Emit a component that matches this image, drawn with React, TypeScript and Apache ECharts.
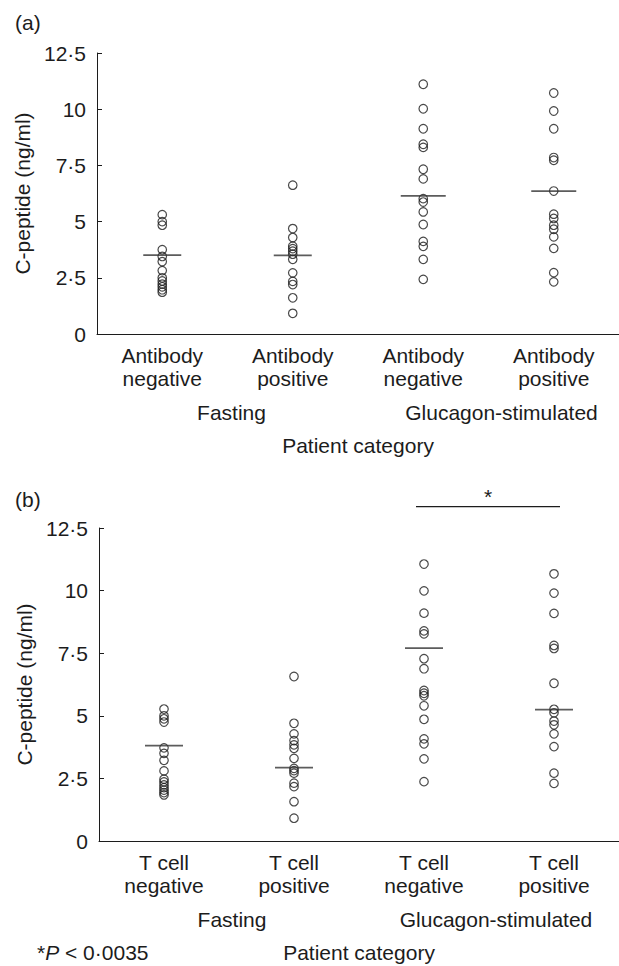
import React, { useEffect, useRef } from "react";
import * as echarts from "echarts";

// ---------- data ----------
const catLabelsA = ["Antibody\nnegative", "Antibody\npositive", "Antibody\nnegative", "Antibody\npositive"];
const catLabelsB = ["T cell\nnegative", "T cell\npositive", "T cell\nnegative", "T cell\npositive"];
const groupLabels = ["Fasting", "Glucagon-stimulated"];
const yTicks = { min: 0, max: 12.5, interval: 2.5 };

// Panel (a) – C-peptide (ng/ml)
const aFastNeg = [5.31, 5.0, 4.84, 3.75, 3.45, 3.22, 2.82, 2.5, 2.36, 2.22, 2.1, 1.97, 1.86];
const aFastPos = [6.62, 4.69, 4.29, 3.91, 3.8, 3.68, 3.55, 3.32, 2.72, 2.34, 2.2, 1.61, 0.92];
const aGlucNeg = [11.11, 10.02, 9.13, 8.44, 8.3, 7.33, 6.9, 6.02, 5.87, 5.43, 4.87, 4.12, 3.9, 3.32, 2.43];
const aGlucPos = [10.72, 9.92, 9.13, 7.85, 7.73, 6.36, 5.33, 5.14, 4.84, 4.66, 4.32, 3.81, 2.73, 2.32];
const aMedians = [3.51, 3.5, 6.14, 6.36];

// Panel (b)
const bFastNeg = [5.27, 5.0, 4.88, 4.75, 3.72, 3.5, 3.22, 2.8, 2.47, 2.36, 2.24, 2.13, 2.03, 1.93, 1.84];
const bFastPos = [6.57, 4.7, 4.28, 4.01, 3.84, 3.7, 3.3, 2.9, 2.81, 2.71, 2.31, 2.17, 1.57, 0.91];
const bGlucNeg = [11.06, 9.99, 9.1, 8.39, 8.27, 7.28, 6.88, 6.01, 5.9, 5.8, 5.4, 4.86, 4.08, 3.88, 3.28, 2.37];
const bGlucPos = [10.67, 9.9, 9.09, 7.81, 7.69, 6.3, 5.26, 5.12, 4.79, 4.64, 4.28, 3.77, 2.71, 2.3];
const bMedians = [3.81, 2.93, 7.7, 5.25];

// significance bracket in panel (b): between columns 2 and 3, at this y value
const sigBracket = [[2, 3, 13.35]];
const sigItalic = "P";
const sigRest = " < 0·0035";

// ---------- styles ----------
const FONT = "Liberation Sans, Arial, Helvetica, sans-serif";
const INK = "#1c1c1c";
const FS = 21;
const medianWidthsA = [38, 38, 45, 45];
const medianWidthsB = [38, 38, 38, 38];

const fmtNum = (v: number) => String(v).replace(".", "·");

function pointsOf(cols: number[][]) {
  const out: number[][] = [];
  cols.forEach((vals, i) => vals.forEach((v) => out.push([i, v])));
  return out;
}

function panelAxes(gi: number, labels: string[], groupShift: number[]) {
  const x = [
    {
      type: "category",
      gridIndex: gi,
      data: ["0", "1", "2", "3"],
      boundaryGap: true,
      axisLine: { lineStyle: { color: INK, width: 1 } },
      axisTick: { alignWithLabel: true, inside: true, length: 5, lineStyle: { color: INK } },
      axisLabel: {
        interval: 0,
        formatter: (v: string) => labels[Number(v)],
        fontSize: FS,
        lineHeight: 23,
        margin: 10,
        color: INK,
        fontFamily: FONT,
      },
      splitLine: { show: false },
    },
    {
      type: "category",
      gridIndex: gi,
      position: "bottom",
      offset: 60,
      data: groupLabels,
      axisLine: { show: false },
      axisTick: { show: false },
      axisLabel: {
        interval: 0,
        margin: 8,
        fontSize: FS,
        color: INK,
        fontFamily: FONT,
        formatter: (v: string) => (v === groupLabels[0] ? "{f|" + v + "}" : "{g|" + v + "}"),
        rich: {
          f: { fontSize: FS, fontFamily: FONT, color: INK, padding: [0, 0, 0, groupShift[0] * 2] },
          g: { fontSize: FS, fontFamily: FONT, color: INK, padding: [0, 0, 0, groupShift[1] * 2] },
        },
      },
      name: "Patient category",
      nameLocation: "middle",
      nameGap: 41,
      nameTextStyle: { fontSize: FS, color: INK, fontFamily: FONT },
    },
  ];
  const y = {
    type: "value",
    gridIndex: gi,
    min: yTicks.min,
    max: yTicks.max,
    interval: yTicks.interval,
    axisLine: { show: true, lineStyle: { color: INK, width: 1 } },
    axisTick: { show: true, inside: true, length: 5, lineStyle: { color: INK } },
    axisLabel: { formatter: fmtNum, fontSize: FS, margin: 11, color: INK, fontFamily: FONT },
    splitLine: { show: false },
    name: "C-peptide (ng/ml)",
    nameLocation: "middle",
    nameGap: 60,
    nameTextStyle: { fontSize: FS, color: INK, fontFamily: FONT },
  };
  return { x, y };
}

export default function App() {
  const ref = useRef<HTMLDivElement>(null);
  useEffect(() => {
    if (!ref.current) return;
    const chart = echarts.init(ref.current, undefined, { renderer: "svg" });
    const A = panelAxes(0, catLabelsA, [4, 13]);
    const B = panelAxes(1, catLabelsB, [3, 7]);
    const circleStyle = { color: "transparent", borderColor: INK, borderWidth: 1.2 };
    const medianData = (meds: number[], widths: number[]) =>
      meds.map((m, i) => ({ value: [i, m], symbolSize: [widths[i], 1.7] }));

    chart.setOption({
      animation: false,
      backgroundColor: "#fff",
      textStyle: { fontFamily: FONT },
      grid: [
        { left: 97, top: 53, width: 523, height: 281 },
        { left: 99, top: 528, width: 524, height: 313 },
      ],
      xAxis: [A.x[0], A.x[1], B.x[0], B.x[1]],
      yAxis: [A.y, B.y],
      graphic: [
        { type: "text", left: 15, top: 12, style: { text: "(a)", fontSize: FS, fill: INK, fontFamily: FONT } },
        { type: "text", left: 15, top: 489, style: { text: "(b)", fontSize: FS, fill: INK, fontFamily: FONT } },
        {
          type: "text",
          left: 37,
          top: 942,
          style: {
            text: "{n|*}{i|" + sigItalic + "}{n|" + sigRest + "}",
            rich: {
              n: { fontSize: FS, fontFamily: FONT, fill: INK },
              i: { fontSize: FS, fontFamily: FONT, fill: INK, fontStyle: "italic" },
            },
          },
        },
      ],
      series: [
        {
          type: "scatter",
          xAxisIndex: 0,
          yAxisIndex: 0,
          symbol: "circle",
          symbolSize: 8.5,
          itemStyle: circleStyle,
          data: pointsOf([aFastNeg, aFastPos, aGlucNeg, aGlucPos]),
        },
        {
          type: "scatter",
          xAxisIndex: 0,
          yAxisIndex: 0,
          symbol: "rect",
          itemStyle: { color: "#333" },
          data: medianData(aMedians, medianWidthsA),
          z: 3,
        },
        {
          type: "scatter",
          xAxisIndex: 2,
          yAxisIndex: 1,
          symbol: "circle",
          symbolSize: 8.5,
          itemStyle: circleStyle,
          data: pointsOf([bFastNeg, bFastPos, bGlucNeg, bGlucPos]),
        },
        {
          type: "scatter",
          xAxisIndex: 2,
          yAxisIndex: 1,
          symbol: "rect",
          itemStyle: { color: "#333" },
          data: medianData(bMedians, medianWidthsB),
          z: 3,
        },
        {
          type: "custom",
          xAxisIndex: 2,
          yAxisIndex: 1,
          clip: false,
          data: sigBracket,
          encode: { x: 0, y: 2 },
          renderItem: (_p: any, api: any) => {
            const p1 = api.coord([api.value(0), api.value(2)]);
            const p2 = api.coord([api.value(1), api.value(2)]);
            const x1 = p1[0] - 8;
            const x2 = p2[0] + 6;
            return {
              type: "group",
              children: [
                { type: "line", shape: { x1, y1: p1[1], x2, y2: p1[1] }, style: { stroke: INK, lineWidth: 1.2 } },
                {
                  type: "text",
                  style: {
                    text: "*",
                    x: (x1 + x2) / 2,
                    y: p1[1] - 10,
                    align: "center",
                    verticalAlign: "middle",
                    fontSize: FS,
                    fontFamily: FONT,
                    fill: INK,
                  },
                },
              ],
            };
          },
        },
      ],
    });
    return () => chart.dispose();
  }, []);
  return <div ref={ref} style={{ position: "absolute", left: 0, top: 0, width: 619, height: 966 }} />;
}
